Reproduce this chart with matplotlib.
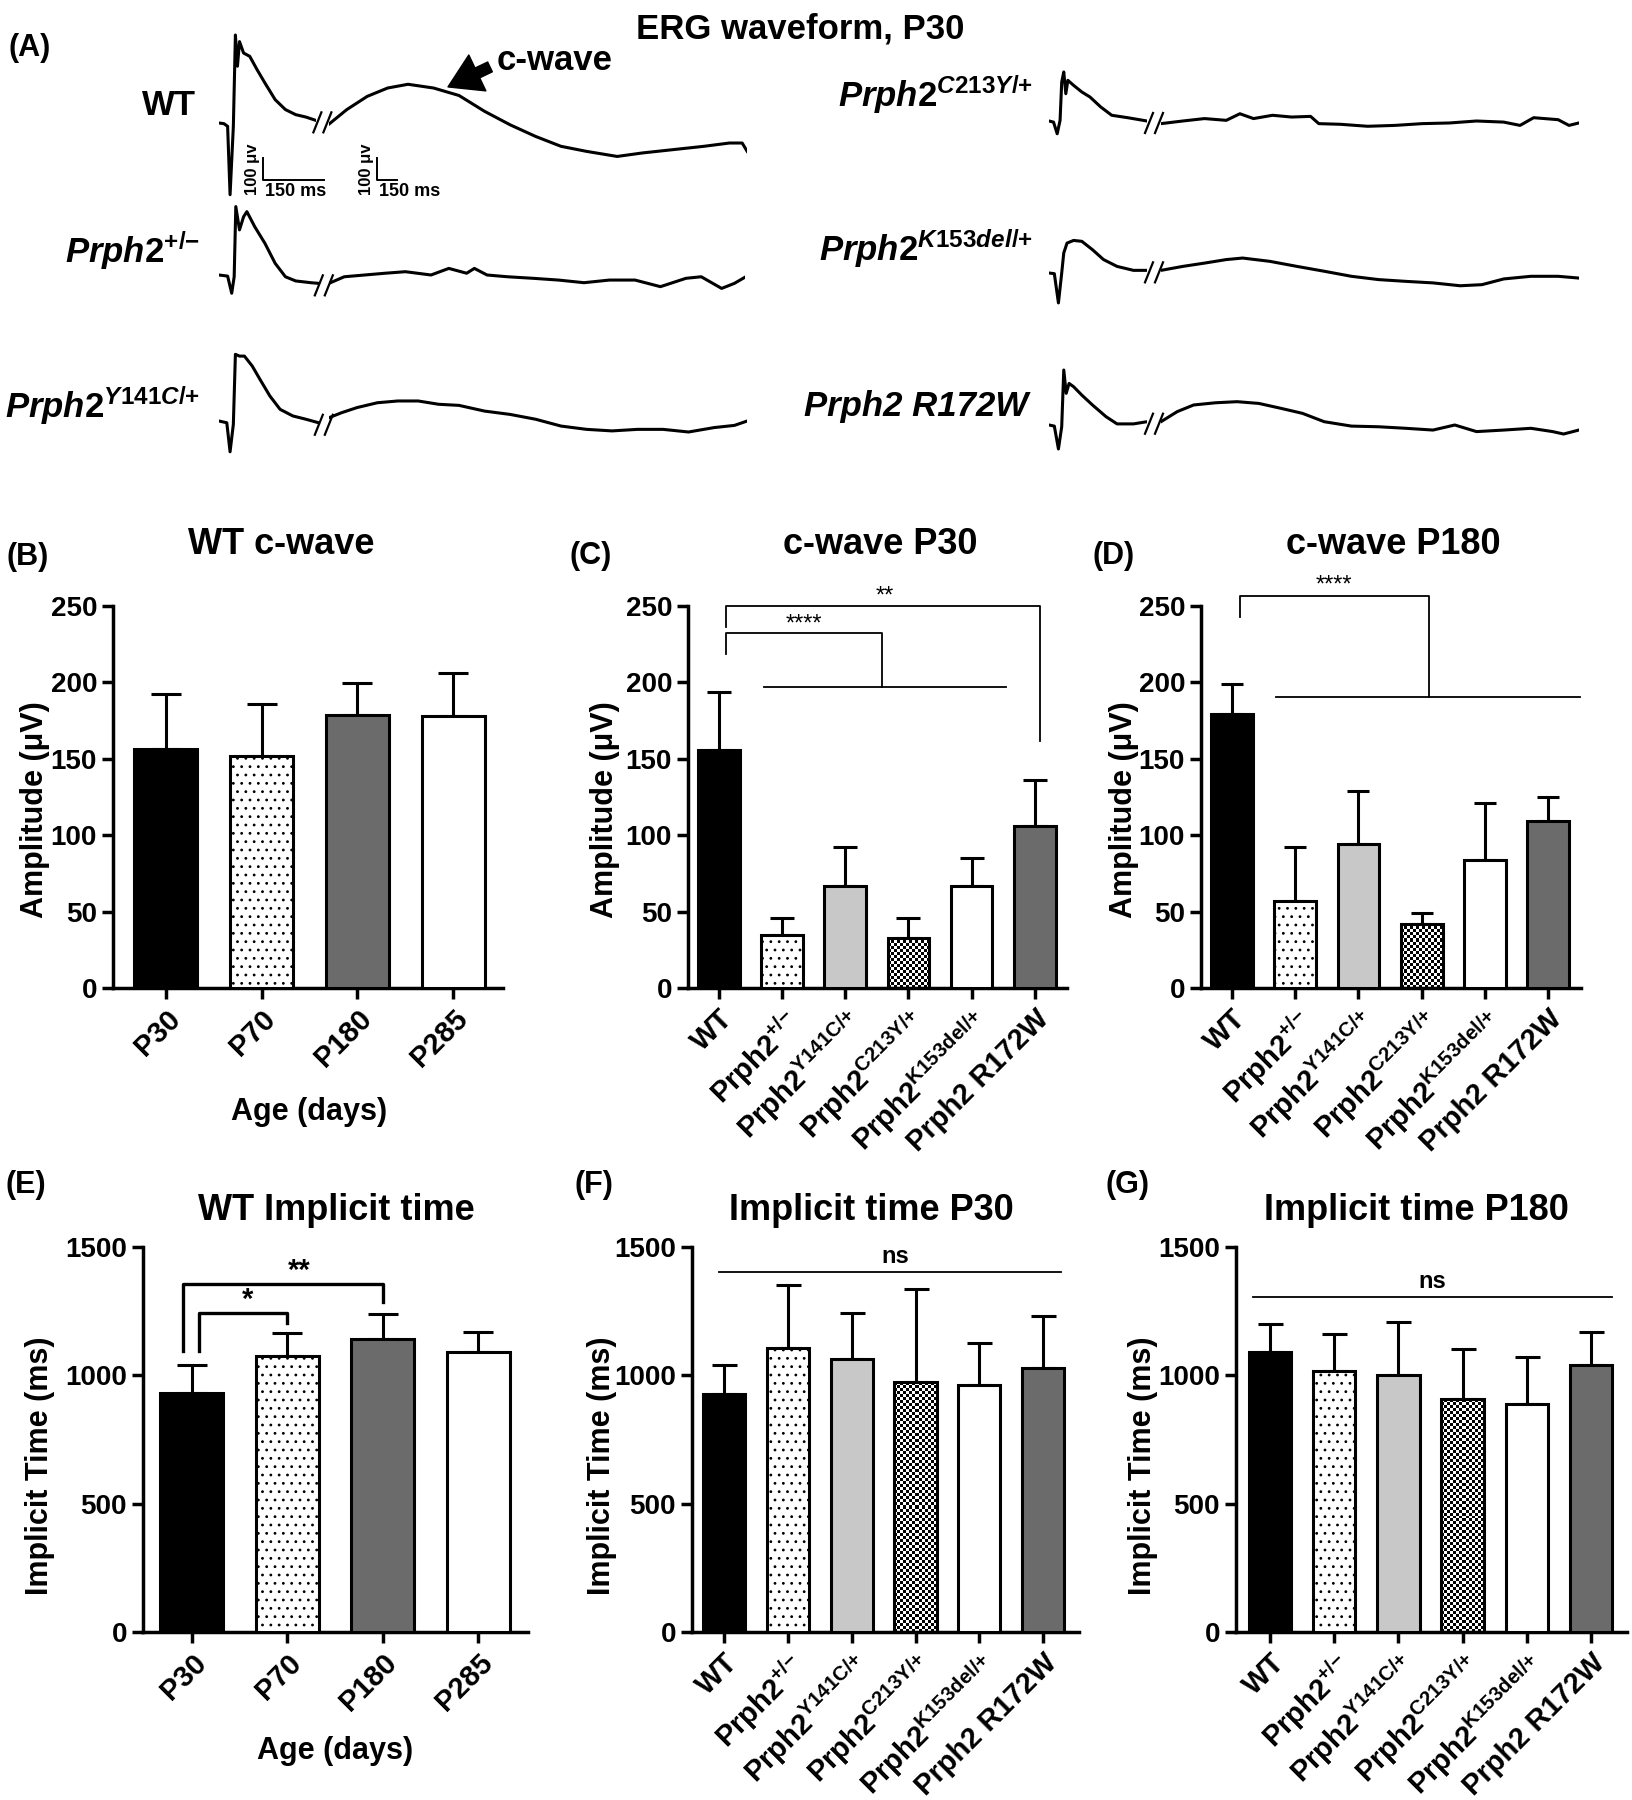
import numpy as np
import matplotlib
matplotlib.use("Agg")
import matplotlib.pyplot as plt
from matplotlib.lines import Line2D
from matplotlib.patches import ArrowStyle

plt.rcParams['font.family'] = ['Liberation Sans', 'DejaVu Sans']
plt.rcParams['font.weight'] = 'bold'
plt.rcParams['mathtext.fontset'] = 'custom'
plt.rcParams['mathtext.rm'] = 'Liberation Sans:bold'
plt.rcParams['mathtext.bf'] = 'Liberation Sans:bold'
plt.rcParams['mathtext.it'] = 'Liberation Sans:italic:bold'
plt.rcParams['hatch.linewidth'] = 0.8

# ---- data ----
age_labels = ['P30', 'P70', 'P180', 'P285']
geno_labels = ['WT',
               r'$\mathrm{Prph2}^{\mathrm{{+}/{-}}}$',
               r'$\mathrm{Prph2}^{\mathrm{Y141C/{+}}}$',
               r'$\mathrm{Prph2}^{\mathrm{C213Y/{+}}}$',
               r'$\mathrm{Prph2}^{\mathrm{K153del/{+}}}$',
               'Prph2 R172W']

# c-wave amplitude (uV), mean and upper error
wt_cwave = [156.5, 151.6, 178.8, 178.0]
wt_cwave_err = [36, 34, 21, 28]
cwave_p30 = [156, 35, 67, 33, 67, 106]
cwave_p30_err = [38, 11, 25, 13, 18, 30]
cwave_p180 = [179, 57, 94, 42, 84, 109]
cwave_p180_err = [20, 35, 35, 7, 37, 16]

# implicit time (ms)
wt_implicit = [930, 1075, 1141, 1089]
wt_implicit_err = [112, 88, 97, 78]
implicit_p30 = [929, 1107, 1063, 973, 961, 1030]
implicit_p30_err = [112, 246, 180, 365, 166, 202]
implicit_p180 = [1091, 1018, 1002, 906, 887, 1041]
implicit_p180_err = [110, 144, 207, 198, 184, 129]

# ERG traces: (ms, uV), first part and after the break
wt_t1 = [0, 12, 21, 27, 35, 40, 45, 50, 60, 75, 93, 112, 137, 162, 187, 212, 236]
wt_v1 = [0, -3, -15, -326, -15, 400, 258, 370, 318, 303, 242, 182, 106, 61, 38, 27, 12]
wt_t2 = [0, 131, 281, 431, 581, 769, 956, 1144, 1331, 1519, 1706, 1894, 2119, 2306, 2531, 2756, 2944, 3038, 3075]
wt_v2 = [-5, 61, 121, 159, 176, 159, 125, 53, -8, -61, -106, -129, -152, -136, -121, -106, -91, -91, -129]

pm_t1 = [0, 21, 31, 37, 41, 50, 60, 68, 87, 112, 137, 162, 187, 224, 243]
pm_v1 = [0, -5, -83, -8, 311, 205, 265, 288, 220, 144, 53, -8, -27, -35, -38]
pm_t2 = [0, 112, 262, 412, 562, 750, 881, 1012, 1069, 1162, 1312, 1500, 1687, 1875, 2062, 2250, 2437, 2625, 2737, 2887, 2981, 3056]
pm_v2 = [-38, -8, 0, 8, 15, 0, 30, 8, 30, 0, -8, -15, -23, -35, -23, -23, -53, -15, -8, -61, -38, -11]

y141_t1 = [0, 19, 27, 35, 40, 50, 62, 81, 100, 124, 149, 180, 212, 243]
y141_v1 = [0, -8, -140, -15, 303, 295, 295, 250, 189, 114, 53, 23, 8, -8]
y141_t2 = [0, 94, 206, 356, 506, 656, 806, 956, 1144, 1331, 1519, 1706, 1894, 2081, 2269, 2456, 2644, 2831, 2981, 3075]
y141_v2 = [15, 38, 61, 83, 91, 91, 76, 71, 45, 30, 8, -23, -38, -45, -38, -38, -50, -30, -20, 0]

c213_t1 = [0, 11, 20, 27, 31, 36, 41, 46, 60, 80, 100, 126, 153, 192, 239]
c213_v1 = [0, -5, -58, 3, 177, 223, 124, 185, 162, 132, 109, 64, 26, 15, 0]
c213_t2 = [0, 160, 320, 480, 580, 680, 820, 960, 1100, 1160, 1320, 1520, 1720, 1920, 2120, 2320, 2520, 2640, 2740, 2920, 3000, 3072]
c213_v2 = [-12, 0, 11, 3, 33, 11, 26, 18, 21, -12, -15, -24, -20, -12, -9, 0, -5, -20, 15, 6, -20, -9]

k153_t1 = [0, 13, 23, 31, 36, 44, 60, 80, 106, 133, 166, 206, 239]
k153_v1 = [0, -3, -136, 0, 91, 136, 148, 144, 106, 61, 30, 12, 12]
k153_t2 = [0, 160, 320, 480, 600, 800, 1000, 1200, 1400, 1600, 1800, 2000, 2200, 2360, 2520, 2720, 2920, 3072]
k153_v2 = [12, 30, 45, 61, 68, 53, 30, 8, -15, -30, -38, -45, -58, -53, -27, -15, -15, -23]

r172_t1 = [0, 13, 23, 31, 36, 42, 49, 60, 80, 106, 139, 166, 206, 239]
r172_v1 = [0, -5, -109, -8, 250, 144, 189, 174, 136, 91, 38, 5, 5, 15]
r172_t2 = [0, 120, 240, 400, 560, 720, 880, 1040, 1200, 1400, 1600, 1800, 2000, 2160, 2320, 2520, 2720, 2880, 2960, 3072]
r172_v2 = [15, 61, 91, 101, 106, 98, 76, 53, 15, -5, -8, -15, -23, 0, -30, -23, -15, -30, -41, -23]

W, H = 1633, 1800
fig = plt.figure(figsize=(W / 100, H / 100), dpi=100)

DARK = '#6b6b6b'
LIGHT = '#c8c8c8'
age_fill = ['black', 'white', DARK, 'white']
age_hatch = ['', '..', '', '']
geno_fill = ['black', 'white', LIGHT, 'checker', 'white', DARK]
geno_hatch = ['', '..', '', '', '', '']


def fx(px):
    return px / W


def fy(py):
    return 1 - py / H


def ftext(x, y, s, **kw):
    fig.text(fx(x), fy(y), s, **kw)


# ---------------- panel A: ERG traces ----------------
PXV = 0.22   # px per uV
PX1 = 0.41   # px per ms, first part
PX2 = 0.136  # px per ms, after break
VMAX = 450


def seg_axes(x0, base, t, v, scale):
    ax = fig.add_axes([fx(x0), fy(base + VMAX * PXV), max(t) * scale / W, 2 * VMAX * PXV / H])
    ax.set_xlim(0, max(t))
    ax.set_ylim(-VMAX, VMAX)
    ax.axis('off')
    ax.plot(t, v, color='black', lw=2.2, solid_joinstyle='round')
    return ax


def draw_trace(x1, x2, base, t1, v1, t2, v2):
    a1 = seg_axes(x1, base, t1, v1, PX1)
    a2 = seg_axes(x2, base, t2, v2, PX2)
    xb = (x1 + max(t1) * PX1 + x2) / 2
    yb = base - v1[-1] * PXV + 2
    for dx in (-5, 5):
        fig.add_artist(Line2D([fx(xb + dx - 4), fx(xb + dx + 4)], [fy(yb + 10), fy(yb - 10)],
                              color='black', lw=1.6))
    return a1, a2


a1, a2 = draw_trace(219, 329, 123, wt_t1, wt_v1, wt_t2, wt_v2)
draw_trace(219, 329, 275, pm_t1, pm_v1, pm_t2, pm_v2)
draw_trace(219, 329, 421, y141_t1, y141_v1, y141_t2, y141_v2)
draw_trace(1049, 1161, 121, c213_t1, c213_v1, c213_t2, c213_v2)
draw_trace(1049, 1161, 273, k153_t1, k153_v1, k153_t2, k153_v2)
draw_trace(1049, 1161, 425, r172_t1, r172_v1, r172_t2, r172_v2)

# scale bars (100 uV, 150 ms) in both time bases
for ax, t0, pxms in ((a1, 107, PX1), (a2, 353, PX2)):
    ax.plot([t0, t0, t0 + 150], [-159, -259, -259], color='black', lw=1.4, clip_on=False)
    ax.text(t0 - 3 / pxms, -209, '100 μv', rotation=90, ha='right', va='center', fontsize=12)
    ax.text(t0 + 2 / pxms, -272, '150 ms', ha='left', va='top', fontsize=13)

# c-wave arrow
a2.annotate('', xy=(875, 164), xytext=(875 + 42 / PX2, 164 + 20 / PXV),
            arrowprops=dict(arrowstyle=ArrowStyle.Simple(head_length=0.9, head_width=1.1, tail_width=0.3),
                            color='black', mutation_scale=26, shrinkA=0, shrinkB=0))
ftext(555, 70, 'c-wave', ha='center', va='baseline', fontsize=25)
ftext(800, 38, 'ERG waveform, P30', ha='center', va='baseline', fontsize=25)

lab_kw = dict(ha='right', va='baseline', fontsize=25)
ftext(196, 115, 'WT', **lab_kw)
ftext(200, 263, r'$\mathit{Prph2}^{\mathit{{+}}\mathrm{/}\mathit{{-}}}$', **lab_kw)
ftext(200, 418, r'$\mathit{Prph2}^{\mathit{Y141C}\mathrm{/}\mathit{{+}}}$', **lab_kw)
ftext(1033, 107, r'$\mathit{Prph2}^{\mathit{C213Y}\mathrm{/}\mathit{{+}}}$', **lab_kw)
ftext(1033, 261, r'$\mathit{Prph2}^{\mathit{K153del}\mathrm{/}\mathit{{+}}}$', **lab_kw)
ftext(1028, 416, 'Prph2 R172W', style='italic', **lab_kw)


# ---------------- bar panels ----------------
def bar_panel(box, xlim, means, errs, labels, fills, hatches, ymax, yticks, cap):
    left, top, right, bottom = box
    ax = fig.add_axes([fx(left), fy(bottom), (right - left) / W, (bottom - top) / H])
    x = np.arange(len(means))
    bw = 0.66
    ax.errorbar(x, means, yerr=[np.zeros(len(means)), errs], fmt='none', ecolor='black',
                elinewidth=2.2, capsize=cap, capthick=2.2, zorder=2)
    face = ['none' if f == 'checker' else f for f in fills]
    bars = ax.bar(x, means, width=bw, color=face, edgecolor='black', linewidth=2.2,
                  hatch=hatches, zorder=3)
    px_x = (right - left) / (xlim[1] - xlim[0])
    px_y = (bottom - top) / ymax
    for i, f in enumerate(fills):
        if f != 'checker':
            continue
        nx = max(2, int(round(bw * px_x / 3.0)))
        ny = max(2, int(round(means[i] * px_y / 3.0)))
        board = np.add.outer(np.arange(ny), np.arange(nx)) % 2
        im = ax.imshow(board, cmap='gray', interpolation='nearest', aspect='auto', origin='lower',
                       extent=(x[i] - bw / 2, x[i] + bw / 2, 0, means[i]), zorder=2.5)
        im.set_clip_path(bars[i])
    ax.set_xlim(*xlim)
    ax.set_ylim(0, ymax)
    ax.set_yticks(yticks)
    ax.set_xticks(x, labels, rotation=45, ha='right', rotation_mode='anchor')
    for s in ('top', 'right'):
        ax.spines[s].set_visible(False)
    for s in ('left', 'bottom'):
        ax.spines[s].set_linewidth(2.5)
    ax.tick_params(axis='both', width=2.5, length=8, labelsize=20)
    ax.tick_params(axis='x', labelsize=21, pad=4)
    ax.patch.set_alpha(0)
    return ax


axB = bar_panel((113, 606, 503, 988), (-0.55, 3.52), wt_cwave, wt_cwave_err, age_labels,
                age_fill, age_hatch, 250, range(0, 251, 50), 10.5)
axC = bar_panel((688, 606, 1067, 988), (-0.49, 5.51), cwave_p30, cwave_p30_err, geno_labels,
                geno_fill, geno_hatch, 250, range(0, 251, 50), 8.5)
axD = bar_panel((1201, 606, 1581, 988), (-0.49, 5.52), cwave_p180, cwave_p180_err, geno_labels,
                geno_fill, geno_hatch, 250, range(0, 251, 50), 8)
axE = bar_panel((143, 1247, 528, 1632), (-0.51, 3.52), wt_implicit, wt_implicit_err, age_labels,
                age_fill, age_hatch, 1500, range(0, 1501, 500), 10.5)
axF = bar_panel((692, 1247, 1079, 1632), (-0.5, 5.56), implicit_p30, implicit_p30_err, geno_labels,
                geno_fill, geno_hatch, 1500, range(0, 1501, 500), 9)
axG = bar_panel((1236, 1247, 1627, 1632), (-0.53, 5.56), implicit_p180, implicit_p180_err, geno_labels,
                geno_fill, geno_hatch, 1500, range(0, 1501, 500), 9)

# titles, panel letters, axis labels
for x, y, s in ((281, 544, 'WT c-wave'), (880, 544, 'c-wave P30'), (1393, 544, 'c-wave P180'),
                (336, 1210, 'WT Implicit time'), (871, 1210, 'Implicit time P30'),
                (1416, 1210, 'Implicit time P180')):
    ftext(x, y, s, ha='center', va='center', fontsize=26)
for x, y, s in ((30, 48, '(A)'), (28, 557, '(B)'), (591, 556, '(C)'), (1114, 556, '(D)'),
                (26, 1185, '(E)'), (594, 1185, '(F)'), (1128, 1185, '(G)')):
    ftext(x, y, s, ha='center', va='center', fontsize=22)
for x, y in ((35, 810), (605, 810), (1124, 810)):
    ftext(x, y, 'Amplitude (μV)', rotation=90, ha='center', va='center', fontsize=22)
for x, y in ((40, 1466), (602, 1466), (1143, 1466)):
    ftext(x, y, 'Implicit Time (ms)', rotation=90, ha='center', va='center', fontsize=22)
ftext(309, 1112, 'Age (days)', ha='center', va='center', fontsize=22)
ftext(335, 1751, 'Age (days)', ha='center', va='center', fontsize=22)

# significance marks
thin = dict(color='black', lw=1.3, clip_on=False)
axC.plot([0.11, 0.11, 5.09, 5.09], [236.5, 250, 250, 161.6], **thin)
axC.plot([0.11, 0.11, 2.58, 2.58], [218.8, 232.3, 232.3, 196.7], **thin)
axC.plot([0.72, 4.54], [196.7, 196.7], **thin)
axC.text(2.63, 249, '**', ha='center', va='bottom', fontsize=17, fontweight='normal')
axC.text(1.35, 231, '****', ha='center', va='bottom', fontsize=17, fontweight='normal')

axD.plot([0.13, 0.13, 3.11, 3.11], [243, 256.8, 256.8, 190.5], **thin)
axD.plot([0.70, 5.50], [190.5, 190.5], **thin)
axD.text(1.61, 256, '****', ha='center', va='bottom', fontsize=17, fontweight='normal')

thick = dict(color='black', lw=2.4, clip_on=False)
axE.plot([-0.09, -0.09, 2.0, 2.0], [1094, 1355, 1355, 1284], **thick)
axE.plot([0.075, 0.075, 1.0, 1.0], [1094, 1242, 1242, 1203], **thick)
axE.text(1.13, 1352, '**', ha='center', va='bottom', fontsize=21)
axE.text(0.58, 1239, '*', ha='center', va='bottom', fontsize=21)

axF.plot([-0.08, 5.28], [1402, 1402], **thin)
axF.text(2.68, 1420, 'ns', ha='center', va='bottom', fontsize=17)
axG.plot([-0.27, 5.33], [1304, 1304], **thin)
axG.text(2.53, 1322, 'ns', ha='center', va='bottom', fontsize=17)

fig.savefig('out.png', dpi=100)
